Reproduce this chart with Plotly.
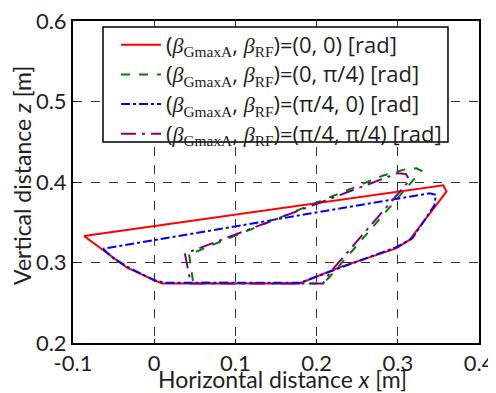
import plotly.graph_objects as go

# Series data (x: horizontal distance [m], z: vertical distance [m])
red_x = [-0.0865, -0.063, -0.034, 0.0, 0.0095, 0.179, 0.228, 0.298, 0.3145, 0.360, 0.356, -0.0865]
red_z = [0.333, 0.316, 0.294, 0.278, 0.274, 0.274, 0.294, 0.3175, 0.328, 0.388, 0.396, 0.333]

green_x = [0.043, 0.048, 0.20, 0.212, 0.216, 0.329, 0.323, 0.310, 0.282, 0.043]
green_z = [0.310, 0.275, 0.274, 0.278, 0.282, 0.414, 0.417, 0.416, 0.408, 0.310]

blue_x = [-0.063, -0.050, -0.030, 0.0, 0.012, 0.18, 0.228, 0.298, 0.318, 0.345, 0.347, 0.339, -0.063]
blue_z = [0.317, 0.305, 0.293, 0.278, 0.275, 0.275, 0.293, 0.319, 0.330, 0.371, 0.384, 0.386, 0.317]

purple_x = [0.0378, 0.045, 0.208, 0.216, 0.3145, 0.310, 0.300, 0.0378]
purple_z = [0.311, 0.274, 0.274, 0.287, 0.402, 0.410, 0.411, 0.311]

SERIF = "font-family:'Liberation Serif','Times New Roman',serif"
def legend_name(val):
    b = f"<span style=\"{SERIF}\"><i>β</i></span>"
    return (f"<span style=\"font-size:22px\">({b}<sub><span style=\"{SERIF}\">GmaxA</span></sub>, "
            f"{b}<sub><span style=\"{SERIF}\">RF</span></sub>)=({val}) [rad]</span>")

names = [legend_name("0, 0"), legend_name("0, π/4"),
         legend_name("π/4, 0"), legend_name("π/4, π/4")]

x_ticks = [-0.1, 0, 0.1, 0.2, 0.3, 0.4]
x_labels = ["-0.1", "0", "0.1", "0.2", "0.3", "0.4"]
z_ticks = [0.2, 0.3, 0.4, 0.5, 0.6]
z_labels = ["0.2", "0.3", "0.4", "0.5", "0.6"]

fig = go.Figure()
series = [
    (red_x, red_z, "#ff0000", "solid"),
    (green_x, green_z, "#007f00", "dash"),
    (blue_x, blue_z, "#0000ff", "dashdot"),
    (purple_x, purple_z, "#7f007f", "longdashdot"),
]
for (xs, zs, col, dash), nm in zip(series, names):
    fig.add_trace(go.Scatter(x=xs, y=zs, mode="lines", name=nm,
                             line=dict(color=col, width=2, dash=dash)))

font_family = "Lato, 'Open Sans', sans-serif"
legend_family = "'Open Sans', Lato, sans-serif"
txt_col = "#231f20"
axis_common = dict(
    showgrid=True, gridcolor="#333333", griddash="dash", gridwidth=1,
    zeroline=False, showline=True, linecolor="black", linewidth=2, mirror=True,
    ticks="inside", ticklen=4, tickcolor="black", automargin=False,
    ticklabeloverflow="allow",
    tickfont=dict(family=font_family, size=22, color=txt_col),
)
fig.update_xaxes(range=[-0.1, 0.4], tickvals=x_ticks, ticktext=x_labels, **axis_common)
fig.update_yaxes(range=[0.2, 0.6], tickvals=z_ticks, ticktext=z_labels, **axis_common)

fig.add_annotation(text="Horizontal distance <i>x</i> [m]", xref="paper", yref="paper",
                   x=0.517, y=-0.113, xanchor="center", yanchor="middle", showarrow=False,
                   font=dict(family=font_family, size=23, color=txt_col))
fig.add_annotation(text="Vertical distance <i>z</i> [m]", xref="paper", yref="paper",
                   x=-0.1256, y=0.519, xanchor="center", yanchor="middle", showarrow=False,
                   textangle=-90, font=dict(family=font_family, size=23, color=txt_col))

# legend frame
fig.add_shape(type="rect", xref="paper", yref="paper", x0=0.0739, x1=0.9236,
              y0=0.6242, y1=0.9814, layer="above", fillcolor="white",
              line=dict(color="black", width=1.5))

fig.update_layout(
    width=488, height=385,
    margin=dict(l=65, r=17, t=13, b=50),
    paper_bgcolor="white", plot_bgcolor="white",
    font=dict(family=font_family, size=21, color=txt_col),
    showlegend=True,
    legend=dict(x=0.106, y=0.9876, xanchor="left", yanchor="top",
                bgcolor="rgba(0,0,0,0)", borderwidth=0,
                font=dict(family=legend_family, size=20.5, color=txt_col),
                tracegroupgap=0, itemwidth=40),
)

fig.write_html("out.html")
